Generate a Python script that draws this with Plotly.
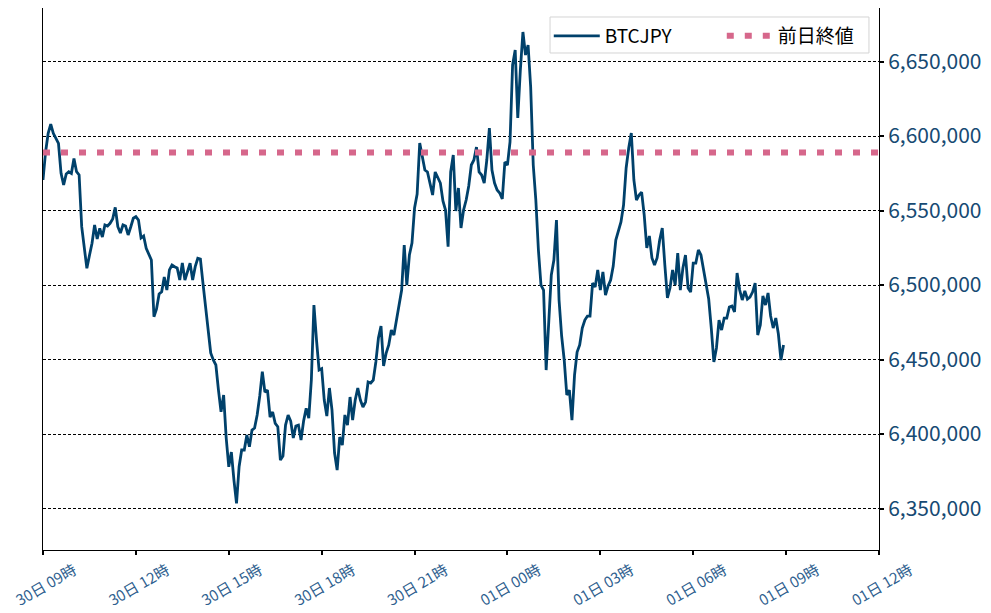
import pandas as pd
import plotly.graph_objects as go

# BTCJPY, 5 minute closes from 30日 09:00
btc_prices = [
    6570500, 6589300, 6601800, 6608050, 6601800, 6598000, 6595100, 6574950, 6567100, 6574500,
    6576050, 6574950, 6584900, 6576050, 6573850, 6539150, 6526850, 6511200, 6519800, 6528000,
    6540300, 6530900, 6538050, 6532200, 6540300, 6539600, 6541400, 6544300, 6552150, 6539150,
    6534900, 6540300, 6539600, 6533600, 6538950, 6544800, 6545850, 6543600, 6531550, 6532900,
    6524650, 6520500, 6516800, 6478750, 6483900, 6493950, 6495500, 6505400, 6496650, 6510100,
    6513450, 6512300, 6511400, 6503350, 6514800, 6503350, 6508750, 6514600, 6503350, 6512300,
    6517950, 6517450, 6501150, 6484600, 6467800, 6454400, 6449700, 6446350, 6429550, 6415000,
    6426200, 6397350, 6378050, 6387950, 6369150, 6353500, 6378050, 6389300, 6389300, 6399350,
    6391500, 6402700, 6404050, 6412800, 6425550, 6441800, 6428200, 6429550, 6411450, 6414800,
    6407200, 6404950, 6382550, 6385250, 6406050, 6412800, 6408750, 6397350, 6405400, 6406050,
    6396000, 6408750, 6417250, 6410750, 6436250, 6486600, 6463100, 6442950, 6443900, 6422850,
    6412100, 6430900, 6416150, 6387300, 6375850, 6398000, 6392650, 6412800, 6406050, 6424850,
    6409400, 6422850, 6430900, 6422850, 6418150, 6421500, 6434950, 6434250, 6436250, 6448350,
    6464450, 6472500, 6445650, 6454400, 6459750, 6469800, 6466450, 6476500, 6487250, 6496650,
    6526850, 6500000, 6520150, 6528200, 6551700, 6561100, 6595300, 6585900, 6577200, 6575850,
    6567100, 6560400, 6575850, 6571800, 6568450, 6556400, 6550350, 6525700, 6575850, 6587250,
    6549650, 6565100, 6538250, 6550350, 6557050, 6566450, 6580550, 6583900, 6592600, 6575850,
    6573850, 6568450, 6583900, 6605350, 6577200, 6568450, 6563750, 6561750, 6557750, 6582550,
    6580550, 6596000, 6647650, 6657700, 6612100, 6644300, 6669800, 6654350, 6661050, 6632900,
    6580550, 6557050, 6523500, 6500000, 6496650, 6442950, 6479900, 6506750, 6516800, 6543600,
    6489950, 6465800, 6449700, 6426200, 6429550, 6409400, 6439600, 6455050, 6459750, 6471150,
    6476500, 6479200, 6479200, 6501350, 6498700, 6510100, 6496650, 6508750, 6493300, 6499350,
    6503350, 6512750, 6530200, 6535600, 6542300, 6553700, 6578550, 6591950, 6602000, 6570500,
    6557050, 6560400, 6562400, 6547000, 6524850, 6532900, 6518150, 6513450, 6518150, 6530200,
    6538250, 6513450, 6491300, 6498000, 6510100, 6500000, 6521500, 6496650, 6511400, 6520150,
    6498000, 6495300, 6514750, 6514750, 6523500, 6520150, 6510750, 6500700, 6490600, 6471150,
    6448350, 6457750, 6476500, 6469800, 6477850, 6477850, 6485250, 6485950, 6481900, 6508050,
    6496650, 6489950, 6496000, 6490600, 6491950, 6495300, 6501350, 6466450, 6473150, 6492650,
    6486600, 6494650, 6479200, 6471150, 6477850, 6467150, 6449700, 6459750,
]
prev_close = 6589000

tick_times = ["2024-04-30 09:00", "2024-04-30 12:00", "2024-04-30 15:00", "2024-04-30 18:00",
              "2024-04-30 21:00", "2024-05-01 00:00", "2024-05-01 03:00", "2024-05-01 06:00",
              "2024-05-01 09:00", "2024-05-01 12:00"]
tick_labels = ["30日 09時", "30日 12時", "30日 15時", "30日 18時", "30日 21時",
               "01日 00時", "01日 03時", "01日 06時", "01日 09時", "01日 12時"]
y_ticks = [6350000, 6400000, 6450000, 6500000, 6550000, 6600000, 6650000]

times = pd.date_range("2024-04-30 09:00", periods=len(btc_prices), freq="5min")

fig = go.Figure()
fig.add_trace(go.Scatter(x=times, y=btc_prices, mode="lines", name="BTCJPY",
                         line=dict(color="#00416b", width=2.8)))
fig.add_trace(go.Scatter(x=[tick_times[0], tick_times[-1]], y=[prev_close, prev_close],
                         mode="lines", name="前日終値",
                         line=dict(color="#d6678b", width=6, dash="7px,11px")))

# legend frame (drawn as a shape so the box hugs the entries)
fig.add_shape(type="rect", xref="paper", yref="paper", x0=0.6065, x1=0.988, y0=0.917, y1=0.9834,
              line=dict(color="#d4d4d4", width=1), fillcolor="rgba(255,255,255,0.85)", layer="above")

font = "Noto Sans CJK JP"
# page body has an 8px margin, so the figure is sized to fit the 991x613 window
fig.update_layout(
    width=983, height=605,
    margin=dict(l=35, r=112, t=0, b=63),
    paper_bgcolor="white", plot_bgcolor="white",
    font=dict(family=font),
    legend=dict(orientation="h", x=0.605, xanchor="left", y=0.9834, yanchor="top",
                borderwidth=0, bgcolor="rgba(0,0,0,0)",
                font=dict(size=19, color="black"), entrywidth=112, itemwidth=46),
)
fig.update_xaxes(
    range=[tick_times[0], tick_times[-1]], automargin=False,
    tickvals=tick_times, ticktext=tick_labels, tickangle=-30,
    ticklabelshift=31, ticklabelstandoff=1,
    tickfont=dict(size=15, color="#2f5f8f"),
    ticks="outside", ticklen=4, tickwidth=2, tickcolor="black",
    showgrid=False, showline=True, linecolor="black", linewidth=1, mirror=True,
)
fig.update_yaxes(
    side="right", range=[6322200, 6685900], tickvals=y_ticks, tickformat=",",
    automargin=False,
    tickfont=dict(size=21, color="#174a73"),
    ticks="outside", ticklen=4, tickwidth=2, tickcolor="black",
    showgrid=True, gridcolor="black", gridwidth=0.7, griddash="3px,2px",
    showline=True, linecolor="black", linewidth=1, mirror=True, zeroline=False,
)

fig.write_html("out.html")
